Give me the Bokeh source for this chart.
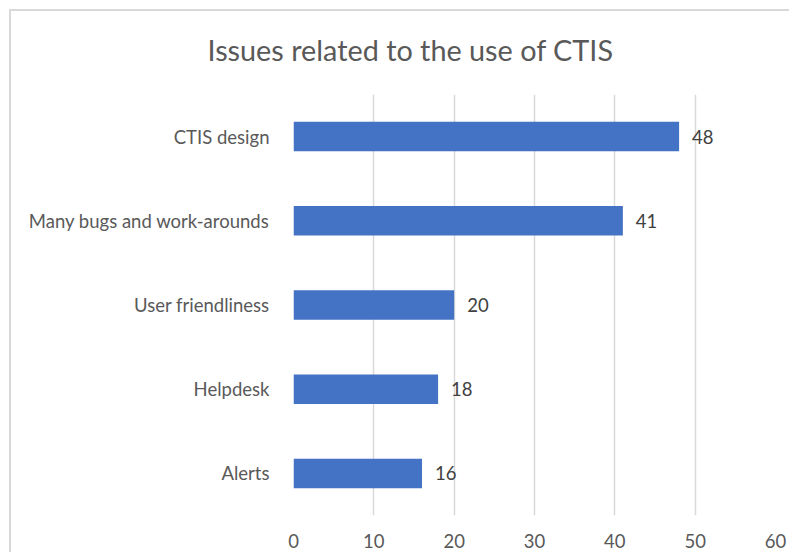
from bokeh.plotting import figure
from bokeh.models import ColumnDataSource, LabelSet, FactorRange, Range1d, FixedTicker
from bokeh.core.properties import value
from bokeh.embed import file_html
from bokeh.resources import INLINE

categories = ["CTIS design", "Many bugs and work-arounds", "User friendliness", "Helpdesk", "Alerts"]
values = [48, 41, 20, 18, 16]
x_ticks = [0, 10, 20, 30, 40, 50, 60]
title_text = "Issues related to the use of CTIS"

FONT = "Lato"
LSIZE = "18.5px"
src = ColumnDataSource(dict(cat=categories, val=values, lab=[str(v) for v in values]))

p = figure(width=789, height=552, output_backend="svg", toolbar_location=None,
           y_range=FactorRange(*categories[::-1]), x_range=Range1d(0, 60),
           min_border_left=293, min_border_top=94, min_border_bottom=37, min_border_right=14)
p.border_fill_alpha = 0
p.background_fill_color = "white"
p.styles = {
    "background": ("linear-gradient(#d9d9d9, #d9d9d9) 9px 9px / 100% 2px no-repeat, "
                   "linear-gradient(#d9d9d9, #d9d9d9) 9px 9px / 2px 100% no-repeat, white"),
}

p.title.text = title_text
p.title.text_font = FONT
p.title.text_font_style = "normal"
p.title.text_font_size = "28.8px"
p.title.text_color = "#595959"
p.title.align = "left"
p.title.offset = -86
p.title.vertical_align = "top"
p.title.standoff = 52

p.hbar(y="cat", right="val", left=0, height=0.35, source=src, color="#4472C4", line_color=None)

p.add_layout(LabelSet(x="val", y="cat", text="lab", source=src, x_offset=13,
                      text_baseline="middle", text_font=value(FONT), text_font_size=value(LSIZE),
                      text_color="#404040"))

p.outline_line_color = None
p.ygrid.grid_line_color = None
p.xgrid.grid_line_color = "#d9d9d9"
p.xgrid.grid_line_width = 1.5
p.xaxis.ticker = FixedTicker(ticks=x_ticks)
for ax in (p.xaxis[0], p.yaxis[0]):
    ax.axis_line_color = None
    ax.major_tick_line_color = None
    ax.minor_tick_line_color = None
    ax.major_label_text_font = FONT
    ax.major_label_text_font_size = LSIZE
    ax.major_label_text_color = "#595959"
p.yaxis.major_label_standoff = 18
p.xaxis.major_label_standoff = 12

open("out.html", "w").write(file_html(p, INLINE))
